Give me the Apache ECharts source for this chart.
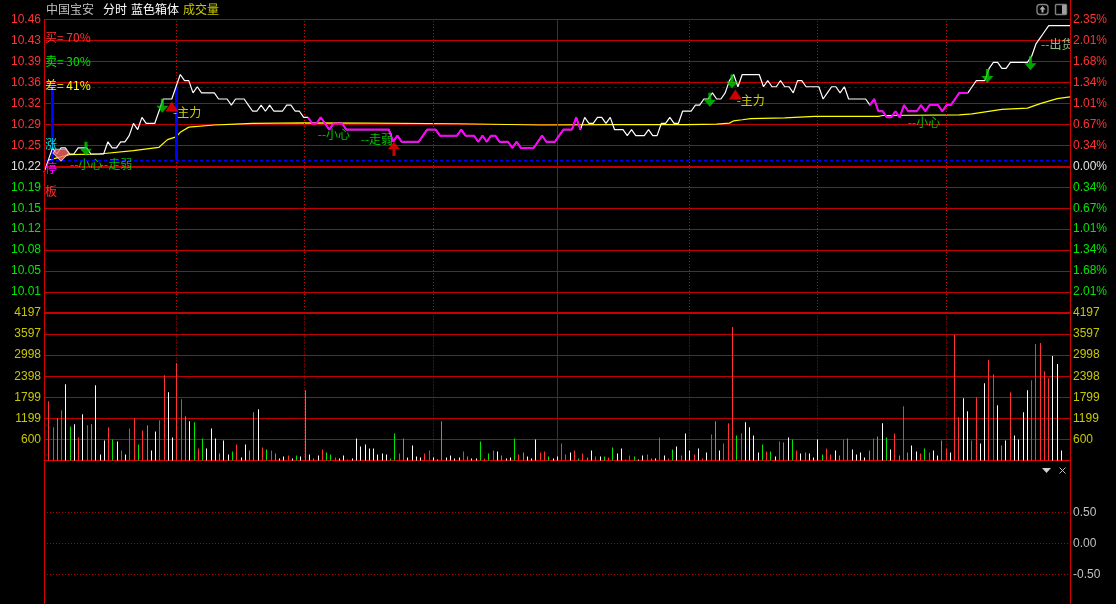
<!DOCTYPE html>
<html><head><meta charset="utf-8">
<style>html,body{margin:0;padding:0;background:#000}#c{width:1116px;height:604px}</style>
<script src="https://cdn.jsdelivr.net/npm/echarts@6/dist/echarts.min.js"></script>
</head><body><div id="c"></div>
<script>
const priceTicks=[10.46,10.4257,10.3914,10.3571,10.3229,10.2886,10.2543,10.22,10.1857,10.1514,10.1171,10.0829,10.0486,10.0143,9.98];
const volTicks=[4197,3597,2998,2398,1799,1199,600];
const macdTicks=[0.5,0,-0.5];
const preClose=10.22;
const priceVals=[
10.21,10.23,10.25,10.24,10.25,10.25,10.24,10.24,10.25,10.25,
10.25,10.24,10.24,10.24,10.24,10.26,10.25,10.25,10.26,10.26,
10.27,10.29,10.28,10.30,10.29,10.29,10.29,10.31,10.33,10.33,
10.33,10.35,10.37,10.36,10.36,10.34,10.35,10.34,10.34,10.34,
10.34,10.33,10.33,10.33,10.32,10.33,10.33,10.33,10.32,10.31,
10.31,10.32,10.31,10.32,10.31,10.31,10.31,10.32,10.32,10.31,
10.31,10.30,10.30,10.29,10.29,10.30,10.29,10.28,10.29,10.29,
10.29,10.28,10.28,10.28,10.28,10.28,10.28,10.28,10.28,10.28,
10.28,10.28,10.26,10.27,10.26,10.26,10.26,10.26,10.26,10.27,
10.28,10.28,10.28,10.27,10.27,10.27,10.27,10.27,10.28,10.27,
10.27,10.27,10.26,10.27,10.26,10.27,10.27,10.26,10.26,10.26,
10.25,10.26,10.25,10.25,10.25,10.25,10.26,10.27,10.26,10.26,
10.26,10.27,10.28,10.28,10.28,10.30,10.28,10.30,10.29,10.29,
10.30,10.30,10.29,10.30,10.28,10.28,10.28,10.27,10.28,10.27,
10.27,10.27,10.28,10.27,10.27,10.29,10.29,10.30,10.29,10.29,
10.31,10.31,10.31,10.32,10.32,10.33,10.33,10.34,10.33,10.33,
10.34,10.36,10.37,10.35,10.37,10.37,10.37,10.37,10.37,10.35,
10.36,10.35,10.35,10.36,10.35,10.35,10.34,10.36,10.36,10.35,
10.35,10.35,10.35,10.33,10.34,10.35,10.35,10.34,10.35,10.33,
10.33,10.33,10.33,10.33,10.32,10.33,10.31,10.31,10.30,10.30,
10.31,10.30,10.32,10.31,10.31,10.31,10.32,10.31,10.32,10.32,
10.32,10.31,10.32,10.32,10.33,10.34,10.34,10.34,10.35,10.36,
10.36,10.36,10.38,10.39,10.39,10.38,10.38,10.39,10.39,10.39,
10.39,10.39,10.40,10.42,10.43,10.44,10.45,10.45,10.45,10.45,10.45,10.45];
const avgMinutes=[0,5,12,20,26,28,30,31,33,39,44,48,60,75,96,116,133,150,157,160,161,163,165,173,180,195,196,214,217,224,230,233,237,240];
const avgVals=[10.23,10.239,10.24,10.2456,10.251,10.2635,10.268,10.2755,10.284,10.2875,10.289,10.29,10.291,10.2905,10.2895,10.2875,10.288,10.288,10.289,10.2905,10.2943,10.296,10.298,10.299,10.3015,10.3015,10.303,10.304,10.3056,10.313,10.315,10.3225,10.3307,10.3335];
const magentaRanges=[[61,125],[193,216]];
const resistance=[10.3504];
const support=[10.2310];
const volVals=[
1686,943,1200,1428,2171,971,1028,657,1314,1000,1028,2143,171,571,943,600,543,286,171,914,1200,457,857,1000,286,828,1143,2428,1943,657,2771,1743,1257,1114,1086,343,628,343,914,628,200,571,171,257,457,86,457,286,1371,1457,371,314,286,200,57,114,143,57,143,114,2000,171,57,143,314,229,171,86,57,143,29,57,628,400,457,343,343,171,
200,171,57,771,200,628,86,428,114,86,200,286,86,29,1114,86,143,57,86,257,114,57,57,543,57,200,286,257,143,57,86,628,171,229,114,57,600,229,257,114,57,114,486,171,229,286,57,200,86,286,114,114,114,86,371,200,343,29,143,114,29,143,171,57,57,657,143,57,314,400,143,771,286,171,343,57,229,743,1114,286,486,1057,3800,714,771,1086,943,714,229,
457,257,257,114,543,514,657,600,286,200,229,200,86,600,171,343,171,286,143,600,628,314,171,229,86,286,628,686,1057,657,314,771,143,1543,229,428,257,200,343,229,286,143,571,343,229,3571,1228,1771,1400,571,1800,486,2200,2857,2457,1571,428,571,1943,714,600,1371,2000,2286,3314,3342,2543,2343,2971,2743,286,0,3828];
const volKinds=
"RRGRWGWRWRGWWWRGWRWRRGRGWWRRWWRRGWGRGWWWGWWGRWWGGWRGRGWWRWGWGWGWRGGRWWGWWWWWWW"+
"WWGGRGWWWWRRWWGWWWWRGWWGRGRWGWWGRGWWWRRGWWRRWRGRGWRWGRGWWGRGWWRGWRWRGWRWWRWRWRGWRRRGRWWWW"+
"GRGWRGWGRWGWWWGRRWGRGWWWWGRGWGWRGRGWWRGRWWGRWRRWWRRWWRRWGWRWWWWRRRRRWWWWW";
const volColorMap={R:'#ff3232',W:'#ffffff',G:'#00e600'};
const priceTimeDots=[30.115,60.18,90.49,150.62,180.7,210.99];
const priceMidday=[119.61];
const volTimeDots=[30,59.96,90.15,150.06,180.02,210.2];
const volMidday=[119.17];
const boxMinutes=[0.987,30.04];
const arrowDown=[[26.8,10.3188],[8.85,10.2486],[155.4,10.3286],[160.6,10.3585],[220.6,10.3678],[230.7,10.3885]];
const triUp=[[29.0,10.3176],[161.4,10.3372]];
const arrowUp=[[81.2,10.2481]];
const diamondPt=[[2.98,10.2383]];
const notes=[
 [5.1,10.2224,'--小心','#00f000'],[12.1,10.2224,'--走弱','#00f000'],
 [63.3,10.2714,'--小心','#00f000'],[73.4,10.2633,'--走弱','#00f000'],
 [29.3,10.3073,'-主力','#ffff00'],[161.7,10.3274,'-主力','#ffff00'],
 [201.9,10.2915,'--小心','#00f000'],[233.2,10.4184,'--出货','#b0e8a0']];
const sideNotes=[
 ['买= 70%',45,37,'#ff3232'],['卖= 30%',45,61,'#00e600'],['差= 41%',45,85,'#ffff00'],
 ['涨',45,144,'#00e0e0'],['停',45,168,'#ff00ff'],['板',45,191,'#ff3232']];
const headerNotes=[['中国宝安',46,9,'#c0c0c0'],['分时',103,9,'#ffffff'],['蓝色箱体',131,9,'#ffffff'],['成交量',183,9,'#c8c800']];

const CJK='"Noto Sans CJK SC","Liberation Sans",sans-serif';
const NUM='"Liberation Sans",Arial,sans-serif';
const GRID='#c00000', FRAME='#d00000';
const xAxisBase=(gi,min,max,extra)=>Object.assign({type:'value',gridIndex:gi,min,max,show:true,axisLabel:{show:false},axisTick:{show:false},splitLine:{show:false},axisLine:{show:false}},extra||{});
const yBase=(gi,pos,min,max,vals,fmt,col,split,splitStyle)=>({type:'value',gridIndex:gi,position:pos,min,max,scale:true,
 axisLine:{show:false},
 axisTick:{show:false,customValues:vals},
 axisLabel:{show:true,customValues:vals.filter(v=>v!==9.98),margin:3,fontFamily:NUM,fontSize:12,color:col,formatter:fmt},
 splitLine:{show:split,lineStyle:splitStyle||{color:GRID,width:1}}});
const priceColor=v=>Math.abs(v-preClose)<0.001?'#e0e0e0':(v>preClose?'#ff3232':'#00e600');
const pctFmt=v=>Math.abs((v-preClose)/preClose*100).toFixed(2)+'%';
const vLines=(mid,dots)=>[
  {xAxis:mid[0],lineStyle:{color:'#b00000',width:1,type:'solid'}},
  ...dots.map(x=>({xAxis:x,lineStyle:{color:'#d00000',width:1,type:[1,2]}}))];

const option={
 backgroundColor:'#000',animation:false,tooltip:{show:false},legend:{show:false},
 grid:[
  {left:44,width:1026,top:19.5,height:293.5},
  {left:44,width:1026,top:313,height:147.5},
  {left:44,width:1026,top:461,height:143}],
 xAxis:[xAxisBase(0,-1.01,240),
        xAxisBase(1,-1.006,239.1,{axisLine:{show:true,onZero:false,lineStyle:{color:'#e00000',width:1}}}),
        xAxisBase(2,-1.01,240)],
 yAxis:[
  yBase(0,'left',9.98,10.46,priceTicks,v=>v.toFixed(2),priceColor,true),
  yBase(0,'right',9.98,10.46,priceTicks,pctFmt,priceColor,false),
  yBase(1,'left',0,4197,volTicks,v=>String(v),'#c8c800',true),
  yBase(1,'right',0,4197,volTicks,v=>String(v),'#c8c800',false),
  yBase(2,'right',-0.979,1.327,macdTicks,v=>v.toFixed(2),'#c0c0c0',true,{color:'#b00000',type:[1,2],width:1})
 ],
 series:[
  {type:'line',name:'frame',xAxisIndex:0,yAxisIndex:0,data:[],silent:true,
   markLine:{silent:true,symbol:'none',label:{show:false},animation:false,data:[
     {yAxis:preClose,lineStyle:{color:'#c80000',width:2,type:'solid'}},
     {yAxis:9.98,lineStyle:{color:'#c80000',width:2,type:'solid'}},
     ...vLines(priceMidday,priceTimeDots)
   ]}},
  {type:'line',name:'frame2',xAxisIndex:1,yAxisIndex:2,data:[],silent:true,
   markLine:{silent:true,symbol:'none',label:{show:false},animation:false,data:vLines(volMidday,volTimeDots)}},
  {type:'line',name:'box',xAxisIndex:0,yAxisIndex:0,data:[],silent:true,z:3,
   markLine:{silent:true,symbol:'none',label:{show:false},animation:false,lineStyle:{color:'#0000ff',width:1,type:[3,3]},
    data:[{yAxis:resistance[0]},{yAxis:support[0]}]}},
  {type:'line',name:'boxBars',xAxisIndex:0,yAxisIndex:0,data:[],silent:true,z:3,
   markLine:{silent:true,symbol:'none',label:{show:false},animation:false,
    data:boxMinutes.map(m=>[{coord:[m,resistance[0]]},{coord:[m,support[0]]}]),
    lineStyle:{color:'#0000ff',width:3,type:'solid'}}},
  {type:'line',name:'均价',xAxisIndex:0,yAxisIndex:0,z:4,showSymbol:false,silent:true,
   lineStyle:{color:'#ffff00',width:1.2},data:avgMinutes.map((m,i)=>[m,avgVals[i]])},
  {type:'line',name:'分时',xAxisIndex:0,yAxisIndex:0,z:5,showSymbol:false,silent:true,
   lineStyle:{color:'#ffffff',width:1.2},data:priceVals.map((p,k)=>[k-1,p])},
  {type:'line',name:'蓝色箱体',xAxisIndex:0,yAxisIndex:0,z:6,showSymbol:false,silent:true,connectNulls:false,
   lineStyle:{color:'#ff00ff',width:2},
   data:priceVals.map((p,k)=>[k-1,magentaRanges.some(r=>k-1>=r[0]&&k-1<=r[1])?p:null])},
  {type:'scatter',xAxisIndex:0,yAxisIndex:0,z:8,silent:true,symbolSize:[12,14],itemStyle:{color:'#00d000'},
   symbol:'path://M4.5 0H7.5V7H12L6 14L0 7H4.5Z',data:arrowDown},
  {type:'scatter',xAxisIndex:0,yAxisIndex:0,z:8,silent:true,symbolSize:[12,14],itemStyle:{color:'#ff0000'},
   symbol:'path://M4.5 14H7.5V7H12L6 0L0 7H4.5Z',data:arrowUp},
  {type:'scatter',xAxisIndex:0,yAxisIndex:0,z:8,silent:true,symbolSize:[13,10],itemStyle:{color:'#ff0000'},
   symbol:'triangle',data:triUp},
  {type:'scatter',xAxisIndex:0,yAxisIndex:0,z:8,silent:true,symbolSize:[16,12],
   itemStyle:{color:'#f86868',borderColor:'#ffd8d8',borderWidth:1},
   symbol:'path://M3 0H13L16 4L8 12L0 4Z',data:diamondPt},
  {type:'scatter',xAxisIndex:0,yAxisIndex:0,z:9,silent:true,symbolSize:0,
   data:notes.map(n=>({value:[n[0],n[1]],label:{show:true,position:'right',distance:0,formatter:n[2],color:n[3],fontFamily:CJK,fontSize:12}}))},
  {type:'custom',name:'成交量',xAxisIndex:1,yAxisIndex:2,z:5,silent:true,clip:false,
   encode:{x:0,y:1},
   data:volVals.map((v,i)=>[i,v]),
   renderItem:(params,api)=>{
     const b=api.coord([api.value(0),0]),t=api.coord([api.value(0),api.value(1)]);
     return {type:'rect',shape:{x:Math.round(b[0]),y:t[1],width:1,height:b[1]-t[1]},
       style:{fill:volColorMap[volKinds[params.dataIndex]]||'#ffffff'}};
   }},
  {type:'line',name:'副图',xAxisIndex:2,yAxisIndex:4,data:[],silent:true}
 ],
 graphic:[
  {type:'rect',z:49,silent:true,shape:{x:1071,y:37,width:2,height:16},style:{fill:'#000'}},
  {type:'line',z:50,silent:true,shape:{x1:44.5,y1:19.5,x2:44.5,y2:604},style:{stroke:FRAME,lineWidth:1}},
  {type:'line',z:50,silent:true,shape:{x1:1070.5,y1:0,x2:1070.5,y2:604},style:{stroke:FRAME,lineWidth:1}},
  ...headerNotes.concat(sideNotes).map(n=>({type:'text',z:51,silent:true,x:n[1],y:n[2],
     style:{text:n[0],fill:n[3],font:'12px '+CJK,textBaseline:'middle',textVerticalAlign:'middle'}})),
  {type:'rect',z:51,silent:true,shape:{x:1037,y:4.5,width:11,height:10,r:3},style:{fill:'none',stroke:'#808080',lineWidth:1.4}},
  {type:'polygon',z:51,silent:true,shape:{points:[[1042.5,6],[1045.5,9.5],[1043.5,9.5],[1043.5,12.5],[1041.5,12.5],[1041.5,9.5],[1039.5,9.5]]},style:{fill:'#b0b0b0'}},
  {type:'rect',z:51,silent:true,shape:{x:1055.5,y:4.5,width:11,height:10,r:1},style:{fill:'none',stroke:'#808080',lineWidth:1.4}},
  {type:'rect',z:51,silent:true,shape:{x:1062,y:5,width:4,height:9},style:{fill:'#a0a0a0'}},
  {type:'polygon',z:51,silent:true,shape:{points:[[1042,468],[1051,468],[1046.5,473]]},style:{fill:'#d0d0d0'}},
  {type:'line',z:51,silent:true,shape:{x1:1059.5,y1:467.5,x2:1065.5,y2:473.5},style:{stroke:'#c0c0c0',lineWidth:1}},
  {type:'line',z:51,silent:true,shape:{x1:1065.5,y1:467.5,x2:1059.5,y2:473.5},style:{stroke:'#c0c0c0',lineWidth:1}}
 ]
};
const chart=echarts.init(document.getElementById('c'),null,{renderer:'canvas'});
chart.setOption(option);
</script></body></html>
